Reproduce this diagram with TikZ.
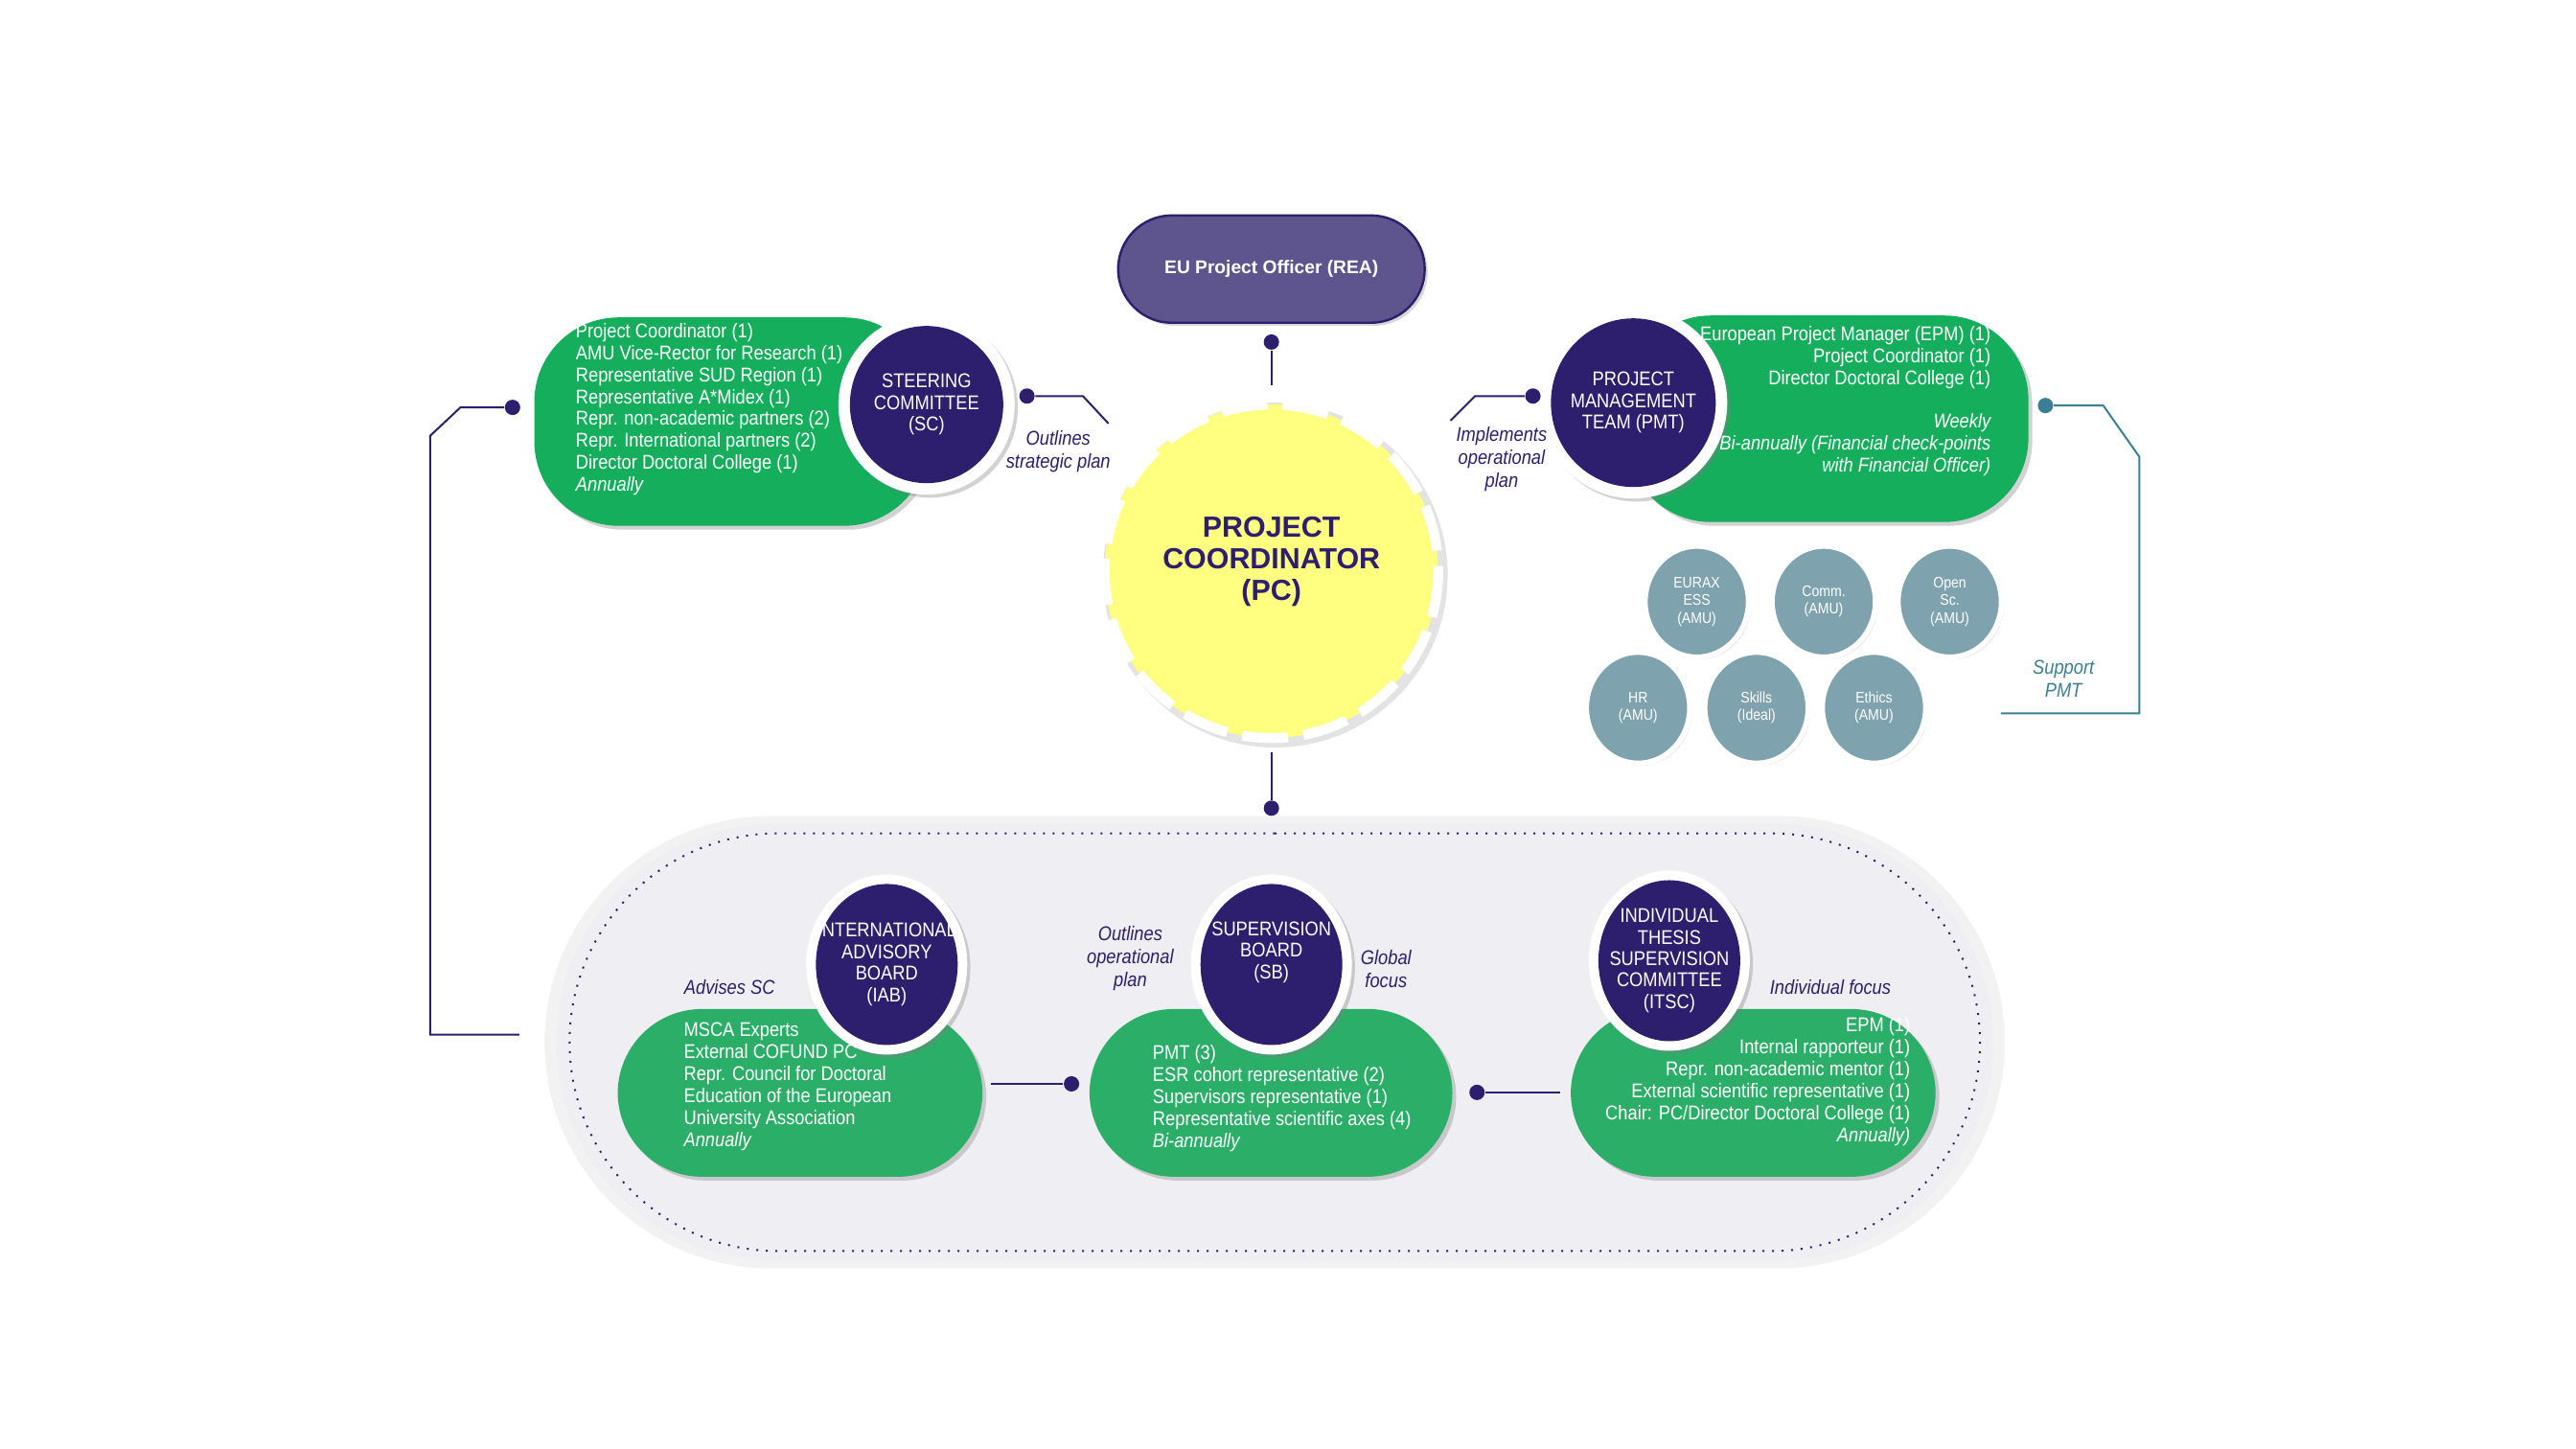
\documentclass[tikz,border=0pt]{standalone}
\usepackage{fontspec}
\setmainfont{Liberation Sans}[FakeStretch=0.88]
\newfontfamily\wide{Liberation Sans}
\usetikzlibrary{shadows,shapes.geometric,shapes.misc}
\definecolor{navy}{HTML}{2E1F6E}
\definecolor{gtop}{HTML}{14AE5C}
\definecolor{gbot}{HTML}{2BAE68}
\definecolor{eubox}{HTML}{5E548E}
\definecolor{pcy}{HTML}{FFFF80}
\definecolor{gcirc}{HTML}{7FA3AE}
\definecolor{teal}{HTML}{3A7F95}
\definecolor{bgbox}{HTML}{EFEEF3}
\begin{document}
\begin{tikzpicture}[x=0.2472pt,y=-0.2472pt,
  green/.style={rounded corners=22pt,draw=none,drop shadow={opacity=0.35,shadow xshift=1pt,shadow yshift=-1pt}},
  ring/.style={ellipse,fill=white,draw=none,inner sep=0pt,drop shadow={opacity=0.35,shadow xshift=0.8pt,shadow yshift=-0.8pt}},
  innr/.style={ellipse,fill=navy,inner sep=0pt},
  itxt/.style={text=white,align=center,font=\fontsize{5.2}{5.6}\selectfont,inner sep=0pt},
  body/.style={text=white,font=\fontsize{5.2}{5.75}\selectfont,inner sep=0pt},
  lab/.style={text=navy,font=\fontsize{5.2}{6}\selectfont\itshape,align=center,inner sep=0pt},
  con/.style={navy,line width=0.5pt},
  dot/.style={circle,fill=navy,inner sep=0pt,minimum size=4pt},
  gc/.style={ellipse,fill=gcirc,draw=white,line width=1.4pt,minimum width=27pt,minimum height=29pt,text=white,align=center,font=\fontsize{4}{4.6}\selectfont,inner sep=0pt,drop shadow={opacity=0.3,shadow xshift=0.6pt,shadow yshift=-0.6pt}},
  cont/.style={rounded rectangle,inner sep=0pt},
]
\useasboundingbox (0,0) rectangle (2719,1529);
\fill[white] (0,0) rectangle (2719,1529);

% bottom container
\node[cont,fill=gray!10,minimum width=381pt,minimum height=118pt] (bout) at (1345.5,1100) {};
\node[cont,fill=bgbox,minimum width=375pt,minimum height=114pt] (bin) at (1345.5,1100) {};
\node[cont,draw=navy,dotted,line width=0.5pt,minimum width=368pt,minimum height=109pt] (bdot) at (1345.5,1100) {};

% EU box
\node[fill=eubox,draw=navy,line width=0.6pt,rounded corners=14pt,minimum width=80pt,minimum height=28pt,text=white,font=\wide\bfseries\fontsize{4.8}{5}\selectfont,drop shadow={opacity=0.3,shadow xshift=0.8pt,shadow yshift=-0.8pt}] (eu) at (1342,284) {EU Project Officer (REA)};

% PC circle
\fill[gray!22] (1346,607) circle (182);
\node[circle,fill=pcy,minimum size=87pt,inner sep=0pt] (pc) at (1342,603) {};
\draw[white,line width=2.6pt,dash pattern=on 12pt off 4pt] (1342,603) circle (176);
\node[text=navy,font=\wide\bfseries\fontsize{7.6}{8.2}\selectfont,align=center] at (1342,593) {PROJECT\\COORDINATOR\\(PC)};

\coordinate (euc) at (1342,407);
\node[dot] (eud) at (1342,361) {};
\draw[con] (eud) -- (euc);
\coordinate (pcb) at (1342,794);
\node[dot] (pcd) at (1342,853) {};
\draw[con] (pcb) -- (pcd);

% SC
\path[fill=gtop,green] (564,335) rectangle (980,555);
\node[ring,minimum width=46pt,minimum height=47pt] (scr) at (978,427) {};
\node[innr,minimum width=40pt,minimum height=41pt] (sc) at (978,427) {};
\node[itxt] at (978,427) {STEERING\\COMMITTEE\\(SC)};
\node[body,anchor=north west,align=left] at (607,340) {Project Coordinator (1)\\AMU Vice-Rector for Research (1)\\Representative SUD Region (1)\\Representative A*Midex (1)\\Repr. non-academic partners (2)\\Repr. International partners (2)\\Director Doctoral College (1)\\\textit{Annually}};
\node[dot] (scd) at (1084,418) {};
\coordinate (sc1) at (1143,418); \coordinate (sc2) at (1170,447);
\draw[con] (scd) -- (sc1) -- (sc2);
\node[lab] at (1117,477) {Outlines\\strategic plan};

% left loop line
\node[dot] (ld) at (541,430) {};
\coordinate (l1) at (486,430); \coordinate (l2) at (454,460); \coordinate (l3) at (454,1092); \coordinate (l4) at (548,1092);
\draw[con] (ld) -- (l1) -- (l2) -- (l3) -- (l4);

% PMT
\path[fill=gtop,green] (1717,333) rectangle (2141,551);
\node[ring,minimum width=49pt,minimum height=50pt] (pmtr) at (1724,425) {};
\node[innr,minimum width=43pt,minimum height=44pt] (pmt) at (1724,425) {};
\node[itxt] at (1724,425) {PROJECT\\MANAGEMENT\\TEAM (PMT)};
\node[body,anchor=north east,align=right] at (2102,344) {European Project Manager (EPM) (1)\\Project Coordinator (1)\\Director Doctoral College (1)};
\node[body,anchor=north east,align=right,font=\fontsize{5.2}{5.75}\selectfont\itshape] at (2102,436) {Weekly\\Bi-annually (Financial check-points\\with Financial Officer)};
\node[dot] (pmd) at (1618,418) {};
\coordinate (p1) at (1557,418); \coordinate (p2) at (1531,444);
\draw[con] (pmd) -- (p1) -- (p2);
\node[lab] at (1585,485) {Implements\\operational\\plan};

% support line
\node[dot,fill=teal] (sd) at (2159,428) {};
\coordinate (s1) at (2220,428); \coordinate (s2) at (2258,482); \coordinate (s3) at (2258,753); \coordinate (s4) at (2112,753);
\draw[teal,line width=0.5pt] (sd) -- (s1) -- (s2) -- (s3) -- (s4);
\node[lab,text=teal] at (2178,716) {Support\\PMT};

% grey circles
\node[gc] (eur) at (1791,635) {EURAX\\ESS\\(AMU)};
\node[gc] (com) at (1925,635) {Comm.\\(AMU)};
\node[gc] (opn) at (2058,635) {Open\\Sc.\\(AMU)};
\node[gc] (hr) at (1729,747) {HR\\(AMU)};
\node[gc] (skl) at (1854,747) {Skills\\(Ideal)};
\node[gc] (eth) at (1978,747) {Ethics\\(AMU)};

% IAB
\path[fill=gbot,green] (652,1065) rectangle (1037,1242);
\node[ring,minimum width=42pt,minimum height=47pt] (iabr) at (936,1018) {};
\node[innr,minimum width=37pt,minimum height=42pt] (iab) at (936,1018) {};
\node[itxt] at (936,1018) {INTERNATIONAL\\ADVISORY\\BOARD\\(IAB)};
\node[body,anchor=north west,align=left] at (721,1078) {MSCA Experts\\External COFUND PC\\Repr. Council for Doctoral\\Education of the European\\University Association\\\textit{Annually}};
\node[lab] at (770,1042) {Advises SC};
\coordinate (ia) at (1046,1144);
\node[dot] (iad) at (1131,1144) {};
\draw[con] (ia) -- (iad);

% SB
\path[fill=gbot,green] (1150,1065) rectangle (1533,1242);
\node[ring,minimum width=42pt,minimum height=47pt] (sbr) at (1342,1018) {};
\node[innr,minimum width=37pt,minimum height=42pt] (sb) at (1342,1018) {};
\node[itxt] at (1342,1005) {SUPERVISION\\BOARD\\(SB)};
\node[body,anchor=north west,align=left] at (1216,1102) {PMT (3)\\ESR cohort representative (2)\\Supervisors representative (1)\\Representative scientific axes (4)\\\textit{Bi-annually}};
\node[lab] at (1193,1012) {Outlines\\operational\\plan};
\node[lab] at (1463,1023) {Global\\focus};
\node[dot] (sbd) at (1559,1153) {};
\coordinate (sb2) at (1647,1153);
\draw[con] (sbd) -- (sb2);

% ITSC
\path[fill=gbot,green] (1658,1065) rectangle (2043,1242);
\node[ring,minimum width=42pt,minimum height=47pt] (itr) at (1762,1014) {};
\node[innr,minimum width=37pt,minimum height=42pt] (it) at (1762,1014) {};
\node[itxt] at (1762,1014) {INDIVIDUAL\\THESIS\\SUPERVISION\\COMMITTEE\\(ITSC)};
\node[body,anchor=north east,align=right] at (2017,1073) {EPM (1)\\Internal rapporteur (1)\\Repr. non-academic mentor (1)\\External scientific representative (1)\\Chair: PC/Director Doctoral College (1)\\\textit{Annually)}};
\node[lab] at (1932,1042) {Individual focus};
\end{tikzpicture}
\end{document}
